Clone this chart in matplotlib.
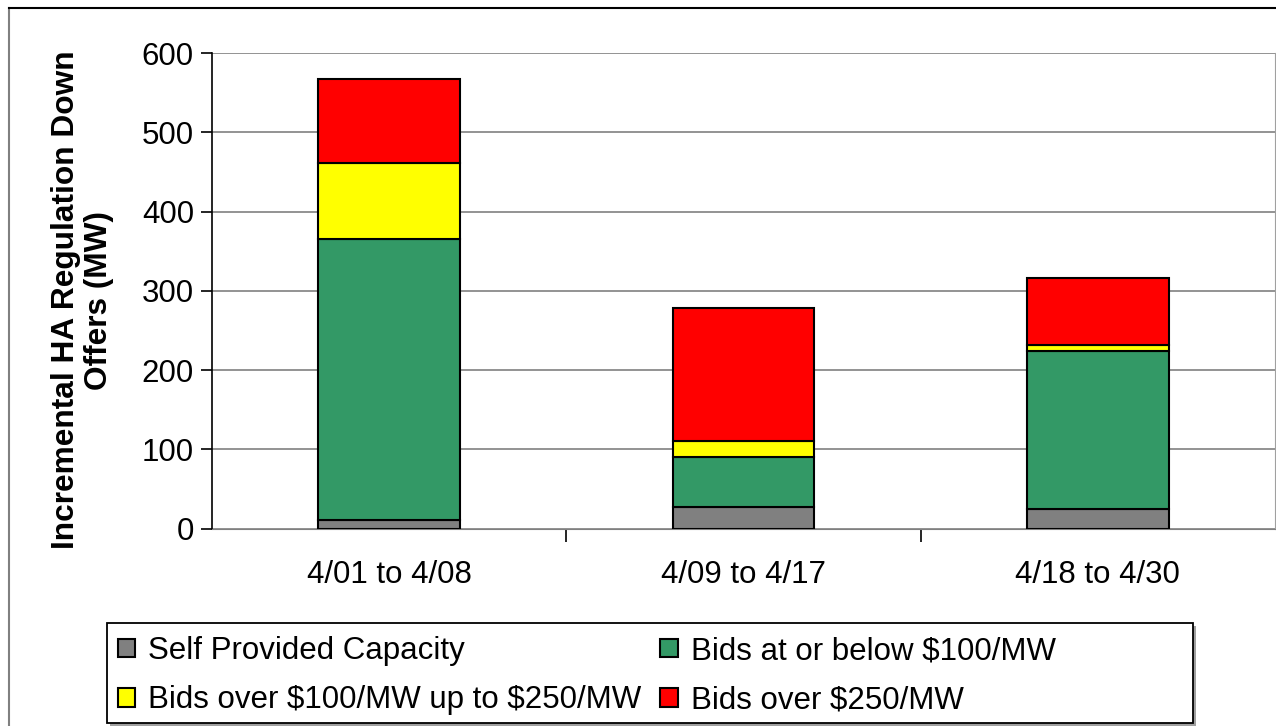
import matplotlib
matplotlib.use("Agg")
import matplotlib.pyplot as plt
from matplotlib.lines import Line2D
from matplotlib.patches import Rectangle
import numpy as np

categories = ["4/01 to 4/08", "4/09 to 4/17", "4/18 to 4/30"]
self_provided = [11, 27, 25]
bids_le_100 = [354, 63, 199]
bids_100_250 = [96, 20, 8]
bids_over_250 = [106, 168, 84]
series_names = ["Self Provided Capacity", "Bids at or below \\$100/MW",
                "Bids over \\$100/MW up to \\$250/MW", "Bids over \\$250/MW"]
colors = ["#808080", "#339966", "#FFFF00", "#FF0000"]
y_ticks = [0, 100, 200, 300, 400, 500, 600]

plt.rcParams['font.family'] = ['Liberation Sans', 'DejaVu Sans']

W, H = 1276, 726
FS = 22.5
fig = plt.figure(figsize=(W / 100, H / 100), dpi=100)
ax = fig.add_axes([212 / W, 1 - 528.5 / H, 1063 / W, (528.5 - 53.3) / H])

x = np.arange(len(categories))
series = [self_provided, bids_le_100, bids_100_250, bids_over_250]
bottom = np.zeros(len(categories))
handles = []
for vals, c, name in zip(series, colors, series_names):
    b = ax.bar(x, vals, width=0.4, bottom=bottom, color=c, edgecolor="black",
               linewidth=1.5, label=name, zorder=3)
    handles.append(b)
    bottom += np.array(vals)

ax.set_xlim(-0.5, 2.5)
ax.set_ylim(0, 600)
ax.set_yticks(y_ticks)
ax.set_yticklabels([str(v) for v in y_ticks], fontsize=FS)
ax.set_xticks(x)
ax.set_xticklabels(categories, fontsize=FS)
ax.tick_params(axis='x', which='major', length=0, pad=23)
ax.set_xticks([0.5, 1.5], minor=True)
ax.tick_params(axis='x', which='minor', length=9, width=1.2, color='black', direction='out')
ax.tick_params(axis='y', length=8, width=1.2, direction='out', pad=5)

ax.yaxis.grid(True, color="#808080", linewidth=1.2, zorder=0)
ax.set_axisbelow(True)
ax.spines["top"].set_visible(False)
ax.spines["right"].set_color("#A0A0A0")
ax.spines["bottom"].set_color("#808080")
ax.spines["left"].set_color("black")
ax.spines["left"].set_linewidth(1.2)

ax.set_ylabel("Incremental HA Regulation Down\nOffers (MW)", fontsize=22.8,
              fontweight="bold", linespacing=1.15)
ax.yaxis.set_label_coords((114 - 212) / 1063, (528.5 - 300) / 475.2)

# outer chart frame
fig.add_artist(Line2D([8.5 / W, 8.5 / W], [0, 1 - 7.5 / H], transform=fig.transFigure,
                      color="#808080", linewidth=1.5))
fig.add_artist(Line2D([8.5 / W, 1], [1 - 7.5 / H, 1 - 7.5 / H], transform=fig.transFigure,
                      color="black", linewidth=1.5))

# legend box with shadow
fig.add_artist(Rectangle((109.5 / W, 1 - 725.5 / H), (1193 - 107) / W, 100 / H,
                         transform=fig.transFigure, facecolor="#A0A0A0",
                         edgecolor="none", zorder=4))
fig.add_artist(Rectangle((107 / W, 1 - 723 / H), (1193 - 107) / W, 100 / H,
                         transform=fig.transFigure, facecolor="white",
                         edgecolor="black", linewidth=1.3, zorder=5))

leg_handles = [handles[0], handles[2], handles[1], handles[3]]
leg_labels = [series_names[0], series_names[2], series_names[1], series_names[3]]
leg = fig.legend(leg_handles, leg_labels, ncol=2, loc="upper left",
                 bbox_to_anchor=(118 / W, 1 - 636 / H),
                 fontsize=FS, frameon=False, handlelength=0.55, handleheight=0.55,
                 handletextpad=0.42, borderpad=0, labelspacing=0.62,
                 columnspacing=0.6, borderaxespad=0)
leg.set_zorder(6)

fig.savefig("out.png", dpi=100)
